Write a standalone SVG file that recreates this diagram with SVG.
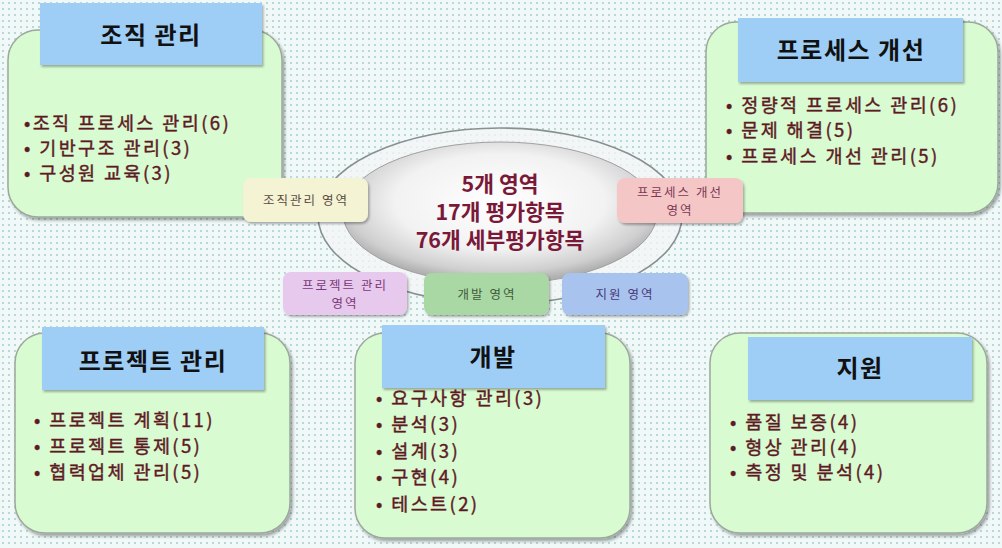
<svg xmlns="http://www.w3.org/2000/svg" width="1002" height="548" viewBox="0 0 1002 548">
<defs>
<pattern id="dots" width="6" height="6" patternUnits="userSpaceOnUse">
<rect width="6" height="6" fill="#f0f8f8"/>
<circle cx="3" cy="3" r="0.95" fill="#a3caca"/>
</pattern>
<radialGradient id="plate" cx="50%" cy="42%" r="56%">
<stop offset="0" stop-color="#ffffff"/>
<stop offset="0.6" stop-color="#f2f2f2"/>
<stop offset="0.88" stop-color="#cfcfcf"/>
<stop offset="1" stop-color="#b0b0b0"/>
</radialGradient>
<filter id="sh" x="-10%" y="-10%" width="130%" height="130%">
<feDropShadow dx="2" dy="2.5" stdDeviation="1.5" flood-color="#000" flood-opacity="0.35"/>
</filter>
<filter id="shs" x="-10%" y="-10%" width="130%" height="130%">
<feDropShadow dx="1.5" dy="2" stdDeviation="1.2" flood-color="#000" flood-opacity="0.3"/>
</filter>
</defs>
<style>
.box{fill:#d8fbd2;stroke:#9ca89c;stroke-width:1.5;filter:url(#sh)}
.hdr{fill:#9ecdf6;filter:url(#shs)}
.ttl{font-family:"Noto Sans CJK KR","Noto Sans",sans-serif;font-size:24px;font-weight:bold;fill:#111;text-anchor:middle;letter-spacing:1.5px}
.itm{font-family:"Noto Sans CJK KR","Noto Sans",sans-serif;font-size:18.5px;fill:#5e1a24;stroke:#5e1a24;stroke-width:0.4;letter-spacing:2.4px}
.ctr{font-family:"Noto Sans CJK KR","Noto Sans",sans-serif;font-size:21.5px;font-weight:bold;fill:#7a1838;text-anchor:middle}
.lbl{filter:url(#shs)}
.lt{font-family:"Noto Sans CJK KR","Noto Sans",sans-serif;font-size:12.5px;text-anchor:middle;letter-spacing:2px}
</style>
<rect width="1002" height="548" fill="url(#dots)"/>

<g id="connectors">
<ellipse cx="500" cy="216" rx="182" ry="88" fill="#f4f6f6" fill-opacity="0.75" stroke="#8a9090" stroke-width="1.6"/>
</g>

<g id="hub">
<ellipse cx="500" cy="213" rx="157" ry="71" fill="url(#plate)" stroke="#a0a0a0" stroke-width="1"/>
<text class="ctr" x="500" y="192">5개 영역</text>
<text class="ctr" x="500" y="220">17개 평가항목</text>
<text class="ctr" x="500" y="248">76개 세부평가항목</text>
</g>

<g id="org">
<rect class="box" x="8" y="30" width="274" height="187" rx="30"/>
<rect class="hdr" x="40" y="3" width="222" height="62"/>
<text class="ttl" x="151" y="44">조직 관리</text>
<text class="itm" x="24" y="130">•조직 프로세스 관리(6)</text>
<text class="itm" x="24" y="155">• 기반구조 관리(3)</text>
<text class="itm" x="24" y="180">• 구성원 교육(3)</text>
</g>

<g id="process">
<rect class="box" x="706" y="22" width="292" height="191" rx="30"/>
<rect class="hdr" x="738" y="18" width="225" height="64"/>
<text class="ttl" x="851" y="59">프로세스 개선</text>
<text class="itm" x="726" y="112">• 정량적 프로세스 관리(6)</text>
<text class="itm" x="726" y="137">• 문제 해결(5)</text>
<text class="itm" x="726" y="163">• 프로세스 개선 관리(5)</text>
</g>

<g id="project">
<rect class="box" x="15" y="333" width="275" height="200" rx="30"/>
<rect class="hdr" x="42" y="327" width="222" height="63"/>
<text class="ttl" x="153" y="370">프로젝트 관리</text>
<text class="itm" x="34" y="427">• 프로젝트 계획(11)</text>
<text class="itm" x="34" y="453">• 프로젝트 통제(5)</text>
<text class="itm" x="34" y="479">• 협력업체 관리(5)</text>
</g>

<g id="dev">
<rect class="box" x="355" y="333" width="275" height="205" rx="30"/>
<rect class="hdr" x="382" y="325" width="223" height="63"/>
<text class="ttl" x="493" y="366">개발</text>
<text class="itm" x="376" y="405">• 요구사항 관리(3)</text>
<text class="itm" x="376" y="431">• 분석(3)</text>
<text class="itm" x="376" y="458">• 설계(3)</text>
<text class="itm" x="376" y="484">• 구현(4)</text>
<text class="itm" x="376" y="511">• 테스트(2)</text>
</g>

<g id="support">
<rect class="box" x="710" y="333" width="277" height="200" rx="30"/>
<rect class="hdr" x="748" y="337" width="224" height="63"/>
<text class="ttl" x="860" y="377">지원</text>
<text class="itm" x="730" y="429">• 품질 보증(4)</text>
<text class="itm" x="730" y="454">• 형상 관리(4)</text>
<text class="itm" x="730" y="479">• 측정 및 분석(4)</text>
</g>

<g id="lbl-org">
<rect class="lbl" x="243" y="178" width="125" height="44" rx="8" fill="#f4f3d3"/>
<text class="lt" x="306" y="205" fill="#5a4a44">조직관리 영역</text>
</g>
<g id="lbl-process">
<rect class="lbl" x="617" y="178" width="126" height="45" rx="8" fill="#f5c6c6"/>
<text class="lt" x="680" y="197" fill="#7a3a55">프로세스 개선</text>
<text class="lt" x="680" y="215" fill="#7a3a55">영역</text>
</g>
<g id="lbl-project">
<rect class="lbl" x="283" y="272" width="124" height="43" rx="8" fill="#e6c9ec"/>
<text class="lt" x="345" y="290" fill="#7a3a7a">프로젝트 관리</text>
<text class="lt" x="345" y="308" fill="#7a3a7a">영역</text>
</g>
<g id="lbl-dev">
<rect class="lbl" x="424" y="273" width="125" height="42" rx="8" fill="#aad8a5"/>
<text class="lt" x="487" y="299" fill="#3f5a3a">개발 영역</text>
</g>
<g id="lbl-support">
<rect class="lbl" x="562" y="273" width="126" height="42" rx="8" fill="#a9c3ef"/>
<text class="lt" x="625" y="299" fill="#4a3a7a">지원 영역</text>
</g>
</svg>
